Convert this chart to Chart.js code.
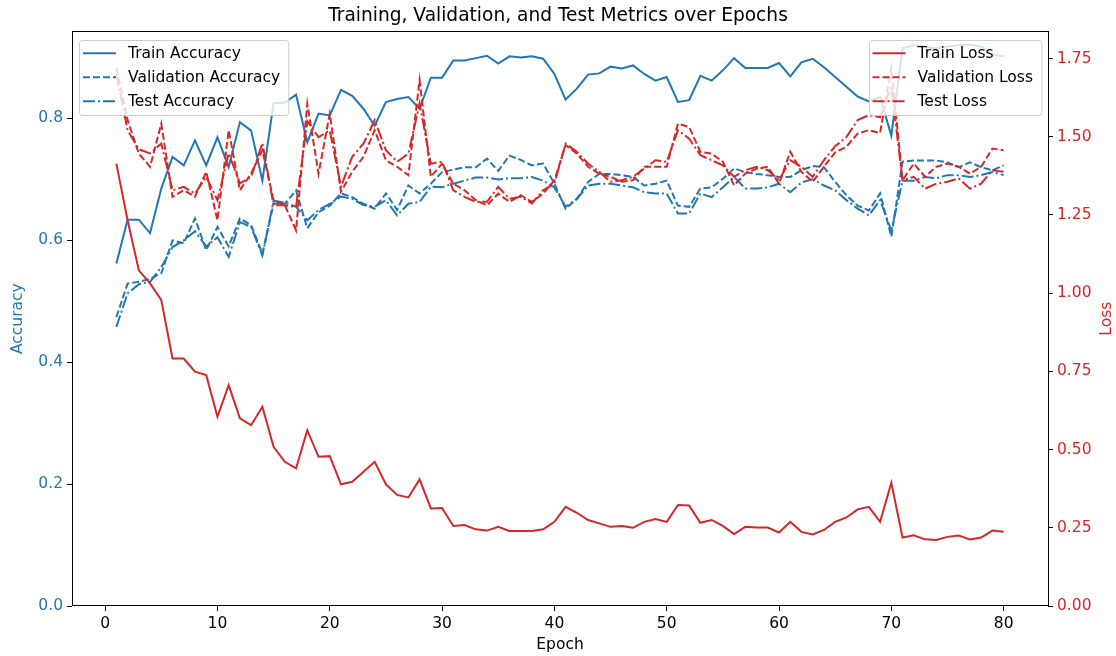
<!DOCTYPE html>
<html>
<head>
<meta charset="utf-8">
<script src="https://cdn.jsdelivr.net/npm/chart.js@4.4.1/dist/chart.umd.min.js"></script>
<style>
  html, body { margin: 0; padding: 0; background: #fff; }
</style>
</head>
<body>
<canvas id="metricsChart" width="1116" height="656"></canvas>
<script>
// Epochs 1..80
const epochs = Array.from({ length: 80 }, (_, i) => i + 1);

const trainAcc = [
  0.562, 0.634, 0.634, 0.612, 0.685, 0.737, 0.723, 0.764, 0.723, 0.769,
  0.720, 0.794, 0.780, 0.698, 0.825, 0.826, 0.839, 0.761, 0.808, 0.805,
  0.847, 0.837, 0.816, 0.788, 0.827, 0.832, 0.835, 0.816, 0.867, 0.867,
  0.895, 0.895, 0.899, 0.903, 0.890, 0.902, 0.900, 0.902, 0.898, 0.873,
  0.831, 0.849, 0.872, 0.874, 0.885, 0.882, 0.887, 0.873, 0.862, 0.868,
  0.827, 0.830, 0.870, 0.862, 0.879, 0.899, 0.883, 0.883, 0.883, 0.891,
  0.869, 0.892, 0.898, 0.884, 0.868, 0.852, 0.836, 0.828, 0.835, 0.772,
  0.915, 0.920, 0.918, 0.915, 0.918, 0.920, 0.921, 0.918, 0.905, 0.902
];
const valAcc = [
  0.474, 0.529, 0.532, 0.537, 0.546, 0.600, 0.595, 0.636, 0.584, 0.622,
  0.590, 0.636, 0.625, 0.578, 0.660, 0.660, 0.682, 0.620, 0.646, 0.657,
  0.677, 0.671, 0.660, 0.652, 0.677, 0.650, 0.690, 0.677, 0.693, 0.712,
  0.716, 0.720, 0.720, 0.734, 0.714, 0.739, 0.732, 0.723, 0.726, 0.693,
  0.652, 0.668, 0.696, 0.709, 0.709, 0.707, 0.704, 0.690, 0.693, 0.698,
  0.657, 0.655, 0.685, 0.687, 0.701, 0.718, 0.712, 0.709, 0.707, 0.704,
  0.704, 0.715, 0.722, 0.720, 0.696, 0.674, 0.657, 0.649, 0.677, 0.606,
  0.729, 0.731, 0.731, 0.731, 0.728, 0.720, 0.728, 0.720, 0.715, 0.723
];
const testAcc = [
  0.458, 0.513, 0.528, 0.532, 0.556, 0.589, 0.600, 0.615, 0.590, 0.605,
  0.573, 0.630, 0.622, 0.575, 0.665, 0.662, 0.655, 0.633, 0.650, 0.660,
  0.672, 0.668, 0.658, 0.655, 0.666, 0.641, 0.660, 0.663, 0.688, 0.687,
  0.693, 0.698, 0.703, 0.703, 0.700, 0.702, 0.702, 0.704, 0.698, 0.687,
  0.655, 0.668, 0.690, 0.693, 0.693, 0.690, 0.687, 0.679, 0.677, 0.677,
  0.644, 0.644, 0.677, 0.671, 0.687, 0.704, 0.685, 0.685, 0.687, 0.693,
  0.679, 0.695, 0.700, 0.690, 0.682, 0.666, 0.652, 0.641, 0.666, 0.616,
  0.698, 0.698, 0.704, 0.702, 0.707, 0.707, 0.704, 0.707, 0.712, 0.707
];
const trainLoss = [
  1.414, 1.233, 1.073, 1.031, 0.978, 0.791, 0.791, 0.749, 0.738, 0.605,
  0.706, 0.600, 0.578, 0.637, 0.509, 0.461, 0.440, 0.562, 0.477, 0.479,
  0.389, 0.397, 0.429, 0.461, 0.389, 0.355, 0.347, 0.405, 0.312, 0.313,
  0.256, 0.259, 0.245, 0.241, 0.253, 0.240, 0.240, 0.240, 0.245, 0.269,
  0.317, 0.298, 0.275, 0.264, 0.253, 0.256, 0.250, 0.269, 0.278, 0.269,
  0.323, 0.321, 0.266, 0.275, 0.256, 0.230, 0.253, 0.251, 0.251, 0.235,
  0.269, 0.237, 0.229, 0.243, 0.269, 0.283, 0.309, 0.317, 0.269, 0.394,
  0.219, 0.226, 0.213, 0.211, 0.221, 0.225, 0.213, 0.219, 0.241, 0.237
];
const valLoss = [
  1.720, 1.553, 1.446, 1.404, 1.542, 1.308, 1.329, 1.308, 1.388, 1.233,
  1.521, 1.329, 1.383, 1.457, 1.297, 1.281, 1.201, 1.606, 1.382, 1.574,
  1.324, 1.388, 1.436, 1.521, 1.425, 1.404, 1.377, 1.681, 1.372, 1.414,
  1.350, 1.329, 1.297, 1.281, 1.318, 1.292, 1.313, 1.292, 1.318, 1.361,
  1.473, 1.446, 1.404, 1.382, 1.372, 1.356, 1.361, 1.404, 1.404, 1.404,
  1.542, 1.531, 1.452, 1.446, 1.420, 1.345, 1.382, 1.398, 1.404, 1.350,
  1.452, 1.388, 1.356, 1.404, 1.450, 1.468, 1.510, 1.521, 1.512, 1.720,
  1.361, 1.414, 1.372, 1.404, 1.414, 1.404, 1.382, 1.404, 1.462, 1.457
];
const testLoss = [
  1.700, 1.521, 1.460, 1.447, 1.478, 1.329, 1.340, 1.318, 1.372, 1.297,
  1.447, 1.351, 1.372, 1.480, 1.281, 1.281, 1.276, 1.550, 1.499, 1.520,
  1.340, 1.436, 1.478, 1.553, 1.457, 1.420, 1.446, 1.606, 1.414, 1.420,
  1.329, 1.308, 1.292, 1.292, 1.340, 1.302, 1.308, 1.287, 1.329, 1.350,
  1.478, 1.452, 1.414, 1.388, 1.356, 1.361, 1.372, 1.398, 1.425, 1.420,
  1.521, 1.494, 1.441, 1.425, 1.409, 1.372, 1.393, 1.404, 1.393, 1.361,
  1.425, 1.404, 1.372, 1.425, 1.470, 1.499, 1.553, 1.569, 1.563, 1.660,
  1.361, 1.372, 1.334, 1.350, 1.356, 1.367, 1.334, 1.350, 1.393, 1.388
];

const BLUE = '#1f77b4';
const RED = '#d62728';
const DASHED = [7, 3];
const DASHDOT = [12, 3, 2, 3];
const FONT = '"DejaVu Sans", sans-serif';

function pts(values) {
  return epochs.map((e, i) => ({ x: e, y: values[i] }));
}

function series(label, values, color, dash, axis, order) {
  return {
    label, data: pts(values), yAxisID: axis, order,
    borderColor: color, backgroundColor: color, borderWidth: 2,
    borderDash: dash, pointRadius: 0, tension: 0, fill: false
  };
}

// matplotlib-style legend boxes
function drawLegend(chart, items, side) {
  const { ctx, chartArea: a } = chart;
  ctx.save();
  ctx.font = '15.5px ' + FONT;
  const textW = Math.max(...items.map(d => ctx.measureText(d.label).width));
  const w = 49 + textW + 8, h = 75;
  const x = side === 'left' ? a.left + 7 : a.right - 7 - w;
  const y = a.top + 9;
  ctx.beginPath();
  ctx.roundRect(Math.round(x) + 0.5, Math.round(y) + 0.5, w, h, 3);
  ctx.fillStyle = 'rgba(255,255,255,0.8)';
  ctx.fill();
  ctx.strokeStyle = '#cccccc';
  ctx.lineWidth = 1;
  ctx.stroke();
  items.forEach((d, i) => {
    const cy = y + 13 + i * 24;
    ctx.beginPath();
    ctx.setLineDash(d.borderDash);
    ctx.strokeStyle = d.borderColor;
    ctx.lineWidth = d.borderWidth;
    ctx.moveTo(x + 4, cy);
    ctx.lineTo(x + 37, cy);
    ctx.stroke();
    ctx.setLineDash([]);
    ctx.fillStyle = '#000';
    ctx.textBaseline = 'middle';
    ctx.fillText(d.label, x + 49, cy + 1);
  });
  ctx.restore();
}

const mplDecor = {
  id: 'mplDecor',
  afterDraw(chart) {
    const { ctx, chartArea: a } = chart;
    ctx.save();
    // spines
    ctx.strokeStyle = '#000';
    ctx.lineWidth = 1;
    ctx.strokeRect(Math.round(a.left) + 0.5, Math.round(a.top) + 0.5,
      Math.round(a.right - a.left), Math.round(a.bottom - a.top) - 1);
    // right axis label, reading bottom to top like matplotlib
    ctx.translate(chart.width - 9, (a.top + a.bottom) / 2);
    ctx.rotate(-Math.PI / 2);
    ctx.font = '15.5px ' + FONT;
    ctx.fillStyle = RED;
    ctx.textAlign = 'center';
    ctx.textBaseline = 'middle';
    ctx.fillText('Loss', 0, 0);
    ctx.restore();
    const ds = chart.data.datasets;
    drawLegend(chart, ds.filter(d => d.yAxisID === 'y'), 'left');
    drawLegend(chart, ds.filter(d => d.yAxisID === 'y1'), 'right');
  }
};

const tickGrid = { display: true, drawOnChartArea: false, drawTicks: true, tickLength: 5, color: '#000', lineWidth: 1 };

new Chart(document.getElementById('metricsChart'), {
  type: 'line',
  data: {
    datasets: [
      series('Train Accuracy', trainAcc, BLUE, [], 'y', 6),
      series('Validation Accuracy', valAcc, BLUE, DASHED, 'y', 5),
      series('Test Accuracy', testAcc, BLUE, DASHDOT, 'y', 4),
      series('Train Loss', trainLoss, RED, [], 'y1', 3),
      series('Validation Loss', valLoss, RED, DASHED, 'y1', 2),
      series('Test Loss', testLoss, RED, DASHDOT, 'y1', 1)
    ]
  },
  options: {
    responsive: false,
    animation: false,
    devicePixelRatio: 1,
    layout: { padding: 0 },
    plugins: {
      legend: { display: false },
      tooltip: { enabled: false },
      title: {
        display: true,
        text: 'Training, Validation, and Test Metrics over Epochs',
        color: '#000',
        font: { family: FONT, size: 18.6, weight: 'normal' },
        padding: { top: 5, bottom: 4 }
      }
    },
    scales: {
      x: {
        type: 'linear', min: -2.95, max: 83.95,
        grid: tickGrid, border: { display: false },
        ticks: { stepSize: 10, includeBounds: false, color: '#000', padding: 4,
                 font: { family: FONT, size: 15.5 }, callback: v => v.toString() },
        title: { display: true, text: 'Epoch', color: '#000',
                 font: { family: FONT, size: 15.5 }, padding: { top: 0, bottom: 2 } },
        afterFit(scale) { scale.height = 50; }
      },
      y: {
        position: 'left', min: 0, max: 0.943,
        grid: tickGrid, border: { display: false },
        ticks: { stepSize: 0.2, includeBounds: false, color: BLUE, padding: 4,
                 font: { family: FONT, size: 15.5 }, callback: v => v.toFixed(1) },
        title: { display: true, text: 'Accuracy', color: BLUE,
                 font: { family: FONT, size: 15.5 }, padding: { top: 9, bottom: 0 } },
        afterFit(scale) { scale.width = 72; }
      },
      y1: {
        position: 'right', min: 0, max: 1.837,
        grid: tickGrid, border: { display: false },
        ticks: { stepSize: 0.25, includeBounds: false, color: RED, padding: 4,
                 font: { family: FONT, size: 15.5 }, callback: v => v.toFixed(2) },
        title: { display: false },
        afterFit(scale) { scale.width = 68; }
      }
    }
  },
  plugins: [mplDecor]
});
</script>
</body>
</html>
